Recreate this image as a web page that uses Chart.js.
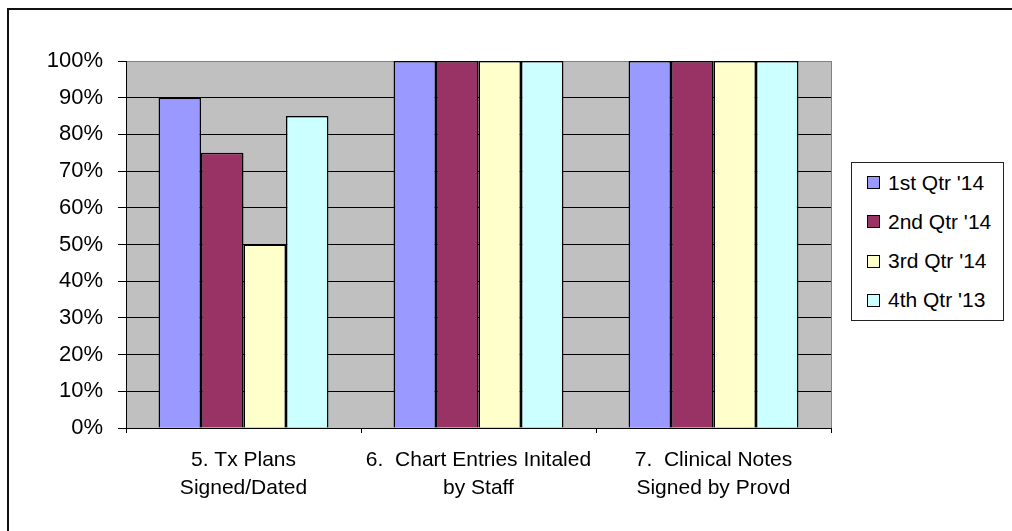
<!DOCTYPE html>
<html>
<head>
<meta charset="utf-8">
<script src="https://cdn.jsdelivr.net/npm/chart.js@4"></script>
<style>
    body { margin: 0; background: #fff; overflow: hidden; }
</style>
</head>
<body>
<reporte-barras></reporte-barras>
<script>
// datos del grafico
const categorias = [
    ['5. Tx Plans', 'Signed/Dated'],
    ['6.  Chart Entries Initaled', 'by Staff'],
    ['7.  Clinical Notes', 'Signed by Provd']
];
const series = ["1st Qtr '14", "2nd Qtr '14", "3rd Qtr '14", "4th Qtr '13"];
const q1_14 = [90, 100, 100];
const q2_14 = [75, 100, 100];
const q3_14 = [50, 100, 100];
const q4_13 = [85, 100, 100];
const colores = ['#9999FF', '#993366', '#FFFFCC', '#CCFFFF'];
const fuente = "'Liberation Sans', Arial, sans-serif";

// fondo gris del area de trazado
const fondoPlot = {
    id: 'fondoPlot',
    beforeDraw(chart) {
        const { ctx, chartArea: a } = chart;
        ctx.save();
        ctx.fillStyle = '#C0C0C0';
        ctx.fillRect(a.left, a.top, a.right - a.left, a.bottom - a.top);
        ctx.strokeStyle = '#808080';
        ctx.lineWidth = 1;
        ctx.strokeRect(a.left + 0.5, a.top + 0.5, a.right - a.left, a.bottom - a.top);
        ctx.restore();
    }
};

const ReporteBarras = class extends HTMLElement {
    constructor() {
        super();
        this.attachShadow({ mode: 'open' });
    };

    connectedCallback() {
        this.render();
    };

    render = () => {
        this.shadowRoot.innerHTML = `
            <style>
                .marco { position: absolute; left: 7px; top: 8px; width: 1100px; height: 600px;
                         border-top: 2px solid #111; border-left: 2px solid #111; }
                canvas { position: absolute; left: 0; top: 0; }
                .leyenda { position: absolute; left: 851px; top: 162px; width: 151px; height: 157px;
                           border: 1.5px solid #222; background: #fff; display: flex; flex-direction: column;
                           font-family: ${fuente}; font-size: 21px; color: #000; }
                .item { flex: 1; display: flex; align-items: center; padding-left: 15px; }
                .cuadro { width: 11px; height: 11px; border: 1px solid #000; margin-right: 8px; }
            </style>
            <div class="marco"></div>
            <canvas width="1012" height="531"></canvas>
            <div class="leyenda"></div>`;

        const canvas = this.shadowRoot.querySelector('canvas');
        const valores = [q1_14, q2_14, q3_14, q4_13];

        const chart = new Chart(canvas, {
            type: 'bar',
            data: {
                labels: categorias,
                datasets: series.map((nombre, i) => ({
                    label: nombre,
                    data: valores[i],
                    backgroundColor: colores[i],
                    borderColor: '#000',
                    borderWidth: 1.5,
                    categoryPercentage: 0.723,
                    barPercentage: 1
                }))
            },
            options: {
                responsive: false,
                animation: false,
                layout: { padding: { left: 0, top: 61, right: 181, bottom: 0 } },
                plugins: {
                    legend: { display: false },
                    tooltip: { enabled: false }
                },
                scales: {
                    x: {
                        afterFit: (s) => { s.height = 103; },
                        grid: { offset: true, drawOnChartArea: false, tickLength: 5, color: '#000' },
                        border: { color: '#000', width: 1 },
                        ticks: {
                            padding: 13,
                            color: '#000',
                            maxRotation: 0,
                            font: { family: fuente, size: 21, lineHeight: 1.35 }
                        }
                    },
                    y: {
                        min: 0,
                        max: 100,
                        afterFit: (s) => { s.width = 126; },
                        grid: {
                            color: (c) => c.tick && c.tick.value === 100 ? '#808080' : '#000',
                            tickColor: '#000',
                            tickLength: 8,
                            lineWidth: 1
                        },
                        border: { color: '#000', width: 1 },
                        ticks: {
                            stepSize: 10,
                            padding: 15,
                            color: '#000',
                            font: { family: fuente, size: 22 },
                            callback: (v) => v + '%'
                        }
                    }
                }
            },
            plugins: [fondoPlot]
        });

        const leyenda = this.shadowRoot.querySelector('.leyenda');
        chart.data.datasets.forEach(ds => {
            const item = document.createElement('div');
            item.className = 'item';
            item.innerHTML = `<span class="cuadro" style="background:${ds.backgroundColor}"></span><span>${ds.label}</span>`;
            leyenda.appendChild(item);
        });
    };
};

customElements.define('reporte-barras', ReporteBarras);
</script>
</body>
</html>
